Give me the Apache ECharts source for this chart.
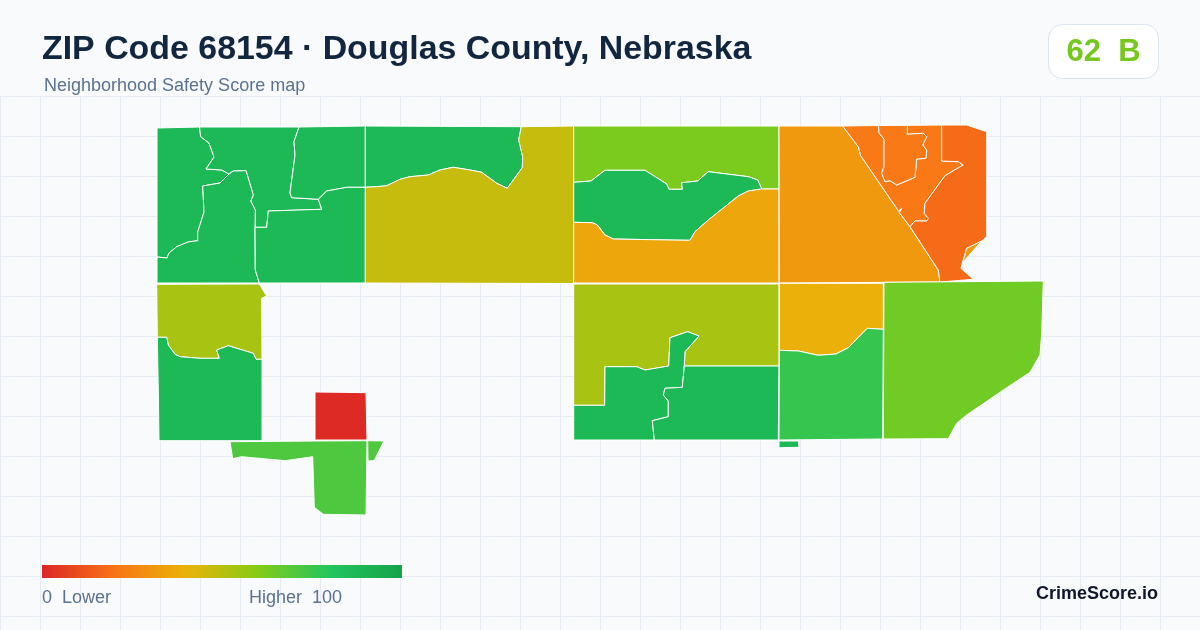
<!DOCTYPE html>
<html><head><meta charset="utf-8">
<style>html,body{margin:0;padding:0;background:#f8fafc}#c{width:1200px;height:630px}</style>
<script src="https://cdn.jsdelivr.net/npm/echarts@6/dist/echarts.min.js"></script>
</head><body><div id="c"></div>
<script>
const titleText = "ZIP Code 68154 · Douglas County, Nebraska";
const subtitleText = "Neighborhood Safety Score map";
const scoreText = "62  B";
const brandText = "CrimeScore.io";
const legendLow = "0  Lower";
const legendHigh = "Higher  100";
const rampColors = ["#dc2626","#f97316","#eab308","#84cc16","#22c55e","#16a34a"];

// Shared boundaries of the neighbourhood outlines, in map units
const eAB1 = [[199.5,127],[200.7,136.7],[209,143],[214,157],[206,169],[221.7,170],[229,174]];
const eAC = [[229,174],[220,183],[202.7,186],[204,212],[197.7,232],[197.7,240.7],[188,242],[176.7,246.7],[169,253],[167,258],[157,257]];
const eBC = [[229,174],[233.3,171],[246,170.7],[253.3,195],[250.7,201],[255.3,210],[255,227.3]];
const eCE = [[255,227.3],[255.3,270],[259.3,283]];
const eBE = [[255,227.3],[266.7,227.3],[268.3,211],[321.7,209.3],[318.3,199.3]];
const eBD = [[299,127],[294,141.7],[295,155],[290,193],[291.7,197.7],[318.3,199.3]];
const eDE = [[318.3,199.3],[326.7,191],[346.7,187.3],[365.3,187.3]];
const eFG = [[521.3,126.7],[518.7,140],[522.7,156.7],[522.3,167.7],[507.3,188.3],[496.7,183.3],[481.7,172.3],[470,170],[453.3,167.3],[440,170],[428.3,175],[410,176.7],[400,179.3],[386.7,185.7],[376.7,186.7],[365.3,187.3]];
const eHI = [[573.7,182.3],[591,181],[605,170.3],[645,170.3],[666.7,184],[669,189.3],[682.3,189.3],[681.7,182.7],[697.7,181],[708.3,171.7],[748.3,176.7],[757.7,180],[761.7,189]];
const eIJ = [[573.7,222.3],[592.3,222.7],[597.3,225],[605,235],[613.3,239],[670,240],[690,240.3],[695,231.7],[708.3,220],[725,206.7],[738.3,196],[748.3,191],[761.7,189]];
const eKL = [[842.7,126],[858.3,146.7],[860.7,155.7],[898.5,211],[901.7,208.5],[899.3,212.5],[910,226.7]];
const eKP = [[910,226.7],[938.3,270],[940,282]];
const eLM = [[878.5,125.5],[879,133],[884,139],[884,166.7],[881.7,173.3],[885,181.7],[890,180.7],[896.7,185],[915,177.3],[916.7,159],[926,158.3],[926.7,150],[922.7,145],[926.7,136.7],[923.3,133.3],[907.3,134.3],[907.3,125.3]];
const eLP = [[941.7,125],[941.7,161],[958.3,161.7],[963.3,165],[951.7,171.7],[945,175.7],[925,203.3],[924.3,213.3],[928.3,218.3],[926.7,221],[915,221],[910,226.7]];
const eRS = [[157.3,337.3],[166.7,337.3],[168.3,345],[175,354.3],[180,356.7],[200,358.3],[219.3,358.3],[216.7,350],[228.3,345.7],[253.3,353.3],[256,359.3],[262,359.3]];
const eWX = [[573.7,405.3],[604.7,405.3],[605,366.7],[636.7,366.7],[645,370],[668.7,366],[670,337.7],[687.7,331.7],[699,336],[685,351.7],[684.3,366]];
const eXY = [[684.3,366],[682.3,387.3],[665,388.3],[663.3,395],[668.3,401],[668.3,416.7],[652.3,420.7],[654.3,440]];
const eZA = [[779.3,350.3],[798.3,351],[818.3,355.3],[836,354],[848.3,347.7],[867.3,328.3],[883.3,329.3]];

const rev = e => e.slice().reverse();

const outlines = {
  A: [[157,128],...eAB1,...eAC],
  B: [...eAB1,...eBC,...eBE,...rev(eBD)],
  C: [...rev(eAC),...eBC,...eCE,[157,283]],
  D: [...eBD,...eDE,[365.3,126]],
  E: [...rev(eBE),...eCE,[365.3,283],...rev(eDE)],
  F: [[365.3,126],...eFG],
  G: [...eFG,[365.3,283],[573.7,283.5],[573.7,126]],
  H: [[573.7,126],[779,126],[779,189],...rev(eHI)],
  I: [...eHI,...rev(eIJ)],
  J: [...eIJ,[779,189],[779,283],[573.7,283]],
  K: [[779,126],...eKL,...eKP,[779.3,283]],
  L: [[842.7,126],...eLM,...eLP,...rev(eKL)],
  M: [...eLM],
  P: [...eLP,...eKP,[973.3,279.3],[961,268.3],[962.7,261.7],[966.7,248.3],[981.7,241],[986.7,236.7],[986.7,131.7],[966.7,125]],
  Q: [[966.7,248.3],[981.7,241],[963,262]],
  R: [[156.7,284.3],[259.3,284],[266.7,296],[261.7,298.3],...rev(eRS)],
  S: [...eRS,[262,440.7],[159,440.7],[158.3,390]],
  T: [[315,392],[340,392.3],[366,392.7],[367,440],[315,440],[288,440.4],[288,439.5],[315,439.5]],
  U: [[230,441.7],[315.7,441],[367,440.7],[366,515],[323.3,514.3],[314.3,507.3],[312.7,456.7],[285,460.7],[241.7,456.7],[232.7,458.7]],
  V: [[367.7,440.7],[384,441],[374,460.7],[368,461]],
  W: [[573.7,284],[779,284],[779,366],...rev(eWX)],
  X: [...eWX,...eXY,[573.7,440]],
  Y: [[684.3,366],[779,366],[778.3,440],...rev(eXY)],
  Z: [[779.3,283.3],[883.3,283.3],...rev(eZA)],
  AA: [...eZA,[882.7,439],[779,440]],
  AB: [[884,282.3],[1043.3,281],[1041.7,333.3],[1040,355],[1030,372.3],[1003.3,390],[966.7,415],[956.7,423.3],[948.3,438.7],[883.3,439]],
  AC: [[779,441],[798.3,441],[799,447.3],[779,447.7]]
};
// Safety score of each neighbourhood
const regionNames  = ["A","B","C","D","E","F","G","H","I","J","K","L","M","P","Q","R","S","T","U","V","W","X","Y","Z","AA","AB","AC"];
const regionScores = [ 87, 87, 87, 87, 87, 87, 47, 62, 87, 36, 32, 22, 22, 18, 32, 53, 87,  1, 71, 71, 53, 87, 87, 39, 76, 64, 87];

const geo = {type:"FeatureCollection",features:regionNames.map(n=>{
  const ring = outlines[n].slice(); ring.push(ring[0]);
  return {type:"Feature",properties:{name:n},geometry:{type:"Polygon",coordinates:[ring]}};
})};
echarts.registerMap("zip68154", geo);

const gridEls = [];
for (let x=0.5;x<1200;x+=40) gridEls.push({type:"line",z:0,silent:true,shape:{x1:x,y1:96,x2:x,y2:630},style:{stroke:"#e6ecf3",lineWidth:1}});
for (let y=96.5;y<630;y+=40) gridEls.push({type:"line",z:0,silent:true,shape:{x1:0,y1:y,x2:1200,y2:y},style:{stroke:"#e6ecf3",lineWidth:1}});
const FONT='"Liberation Sans", Arial, sans-serif';
const texts = [
  {type:"text",x:42,y:50,style:{text:titleText,font:"bold 33.9px "+FONT,fill:"#12263f",verticalAlign:"middle"}},
  {type:"text",x:44,y:86,style:{text:subtitleText,font:"18px "+FONT,fill:"#5b7290",verticalAlign:"middle"}},
  {type:"rect",shape:{x:1048.5,y:24.5,width:110,height:54,r:14},style:{fill:"#ffffff",stroke:"#dbe4ef",lineWidth:1}},
  {type:"text",x:1103.5,y:52,style:{text:scoreText,font:"bold 31px "+FONT,fill:"#76c81f",align:"center",verticalAlign:"middle"}},
  {type:"rect",shape:{x:42,y:565,width:360,height:13},style:{fill:new echarts.graphic.LinearGradient(0,0,1,0,rampColors.map((c,i)=>({offset:i/(rampColors.length-1),color:c})))}},
  {type:"text",x:42,y:598,style:{text:legendLow,font:"18px "+FONT,fill:"#5b7290",verticalAlign:"middle"}},
  {type:"text",x:249,y:598,style:{text:legendHigh,font:"18px "+FONT,fill:"#5b7290",verticalAlign:"middle"}},
  {type:"text",x:1158,y:594,style:{text:brandText,font:"bold 18px "+FONT,fill:"#0f172a",align:"right",verticalAlign:"middle"}}
];

const chart = echarts.init(document.getElementById("c"),null,{renderer:"canvas"});
chart.setOption({
  animation:false,
  backgroundColor:"#f8fafc",
  graphic:{elements:[...gridEls,...texts]},
  visualMap:{type:"continuous",show:false,min:0,max:100,inRange:{color:rampColors},seriesIndex:0},
  series:[{type:"map",map:"zip68154",silent:true,
    projection:{project:p=>[p[0],p[1]],unproject:p=>[p[0],p[1]]},
    left:156.7,top:125,width:886.6,height:390,roam:false,
    label:{show:false},
    itemStyle:{borderColor:"#ffffff",borderWidth:1},
    emphasis:{disabled:true},
    data:regionNames.map((n,i)=>({name:n,value:regionScores[i]}))}]
});
</script></body></html>
